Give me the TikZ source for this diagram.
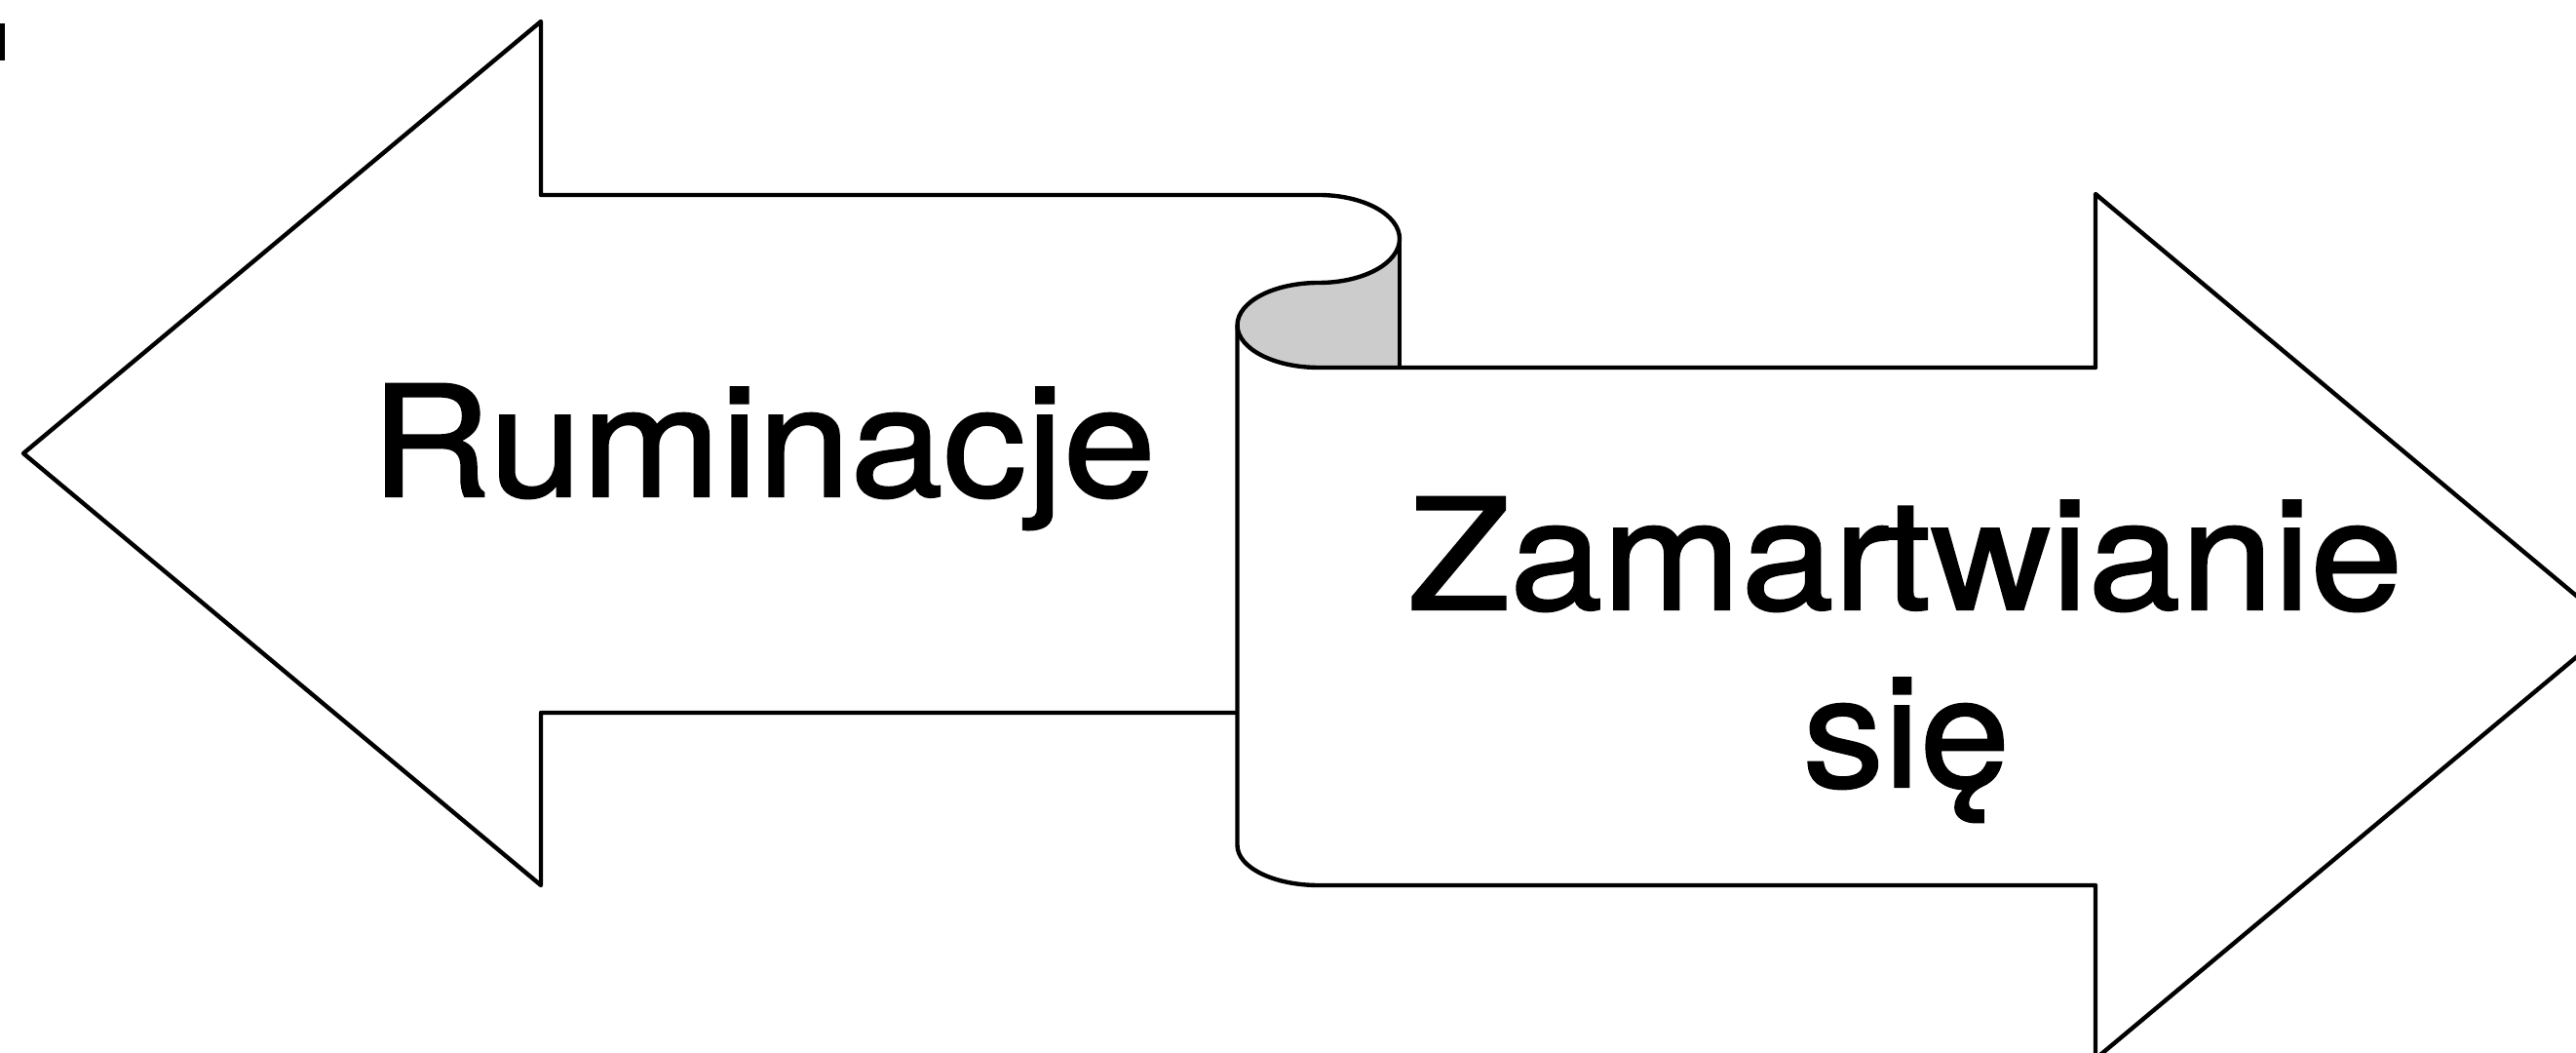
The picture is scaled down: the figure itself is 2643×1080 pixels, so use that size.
\documentclass[tikz,border=0pt]{standalone}
\usepackage{fontspec}
\setmainfont{TeX Gyre Heros}
\newfontfamily\labelfont[BoldFont=TeX Gyre Heros,BoldFeatures={FakeBold=1.3}]{TeX Gyre Heros}
\begin{document}
\begin{tikzpicture}[x=0.01cm,y=-0.01cm,
  outline/.style={draw=black,line width=1.25pt,line join=round},
  curlfill/.style={fill=gray!40},
  label/.style={font=\labelfont\bfseries\fontsize{45}{52}\selectfont,inner sep=0pt,anchor=base}]
  \useasboundingbox (0,0) rectangle (2643,1080);
  \clip (0,0) rectangle (2643,1080);

  % small mark at the top left edge
  \fill[black] (0,24) rectangle (5,62);

  % shaded inside of the scroll curl
  \path[curlfill] (1436,245) arc[start angle=0,end angle=90,x radius=83,y radius=45]
    arc[start angle=-90,end angle=-270,x radius=83.5,y radius=43.5]
    -- (1436,377) -- cycle;

  % left-pointing arrow, its upper edge running into the curl
  \draw[outline] (1353,200) -- (555,200) -- (555,22) -- (24,465) -- (555,908)
    -- (555,731) -- (1269.5,731);

  % curl: upper turn and lower turn of the scroll
  \draw[outline] (1353,200) arc[start angle=-90,end angle=90,x radius=83,y radius=45]
    arc[start angle=-90,end angle=-270,x radius=83.5,y radius=43.5];
  \draw[outline] (1436,245) -- (1436,377);

  % right-pointing arrow with the scroll's left side
  \draw[outline] (1269.5,333.5) -- (1269.5,867)
    arc[start angle=180,end angle=90,x radius=83.5,y radius=41]
    -- (2150,908) -- (2150,1086) -- (2681,642.5) -- (2150,199) -- (2150,377) -- (1353,377);

  % labels
  \node[label] (rum) at (783,509) {\scalebox{1.08}[1]{Ruminacje}};
  \node[label] (zam) at (1955,625) {\scalebox{1.08}[1]{Zamar\kern-0.03em twianie}};
  \node[label] (sie) at (1956,807) {\scalebox{1.05}[1]{się}};
\end{tikzpicture}
\end{document}
